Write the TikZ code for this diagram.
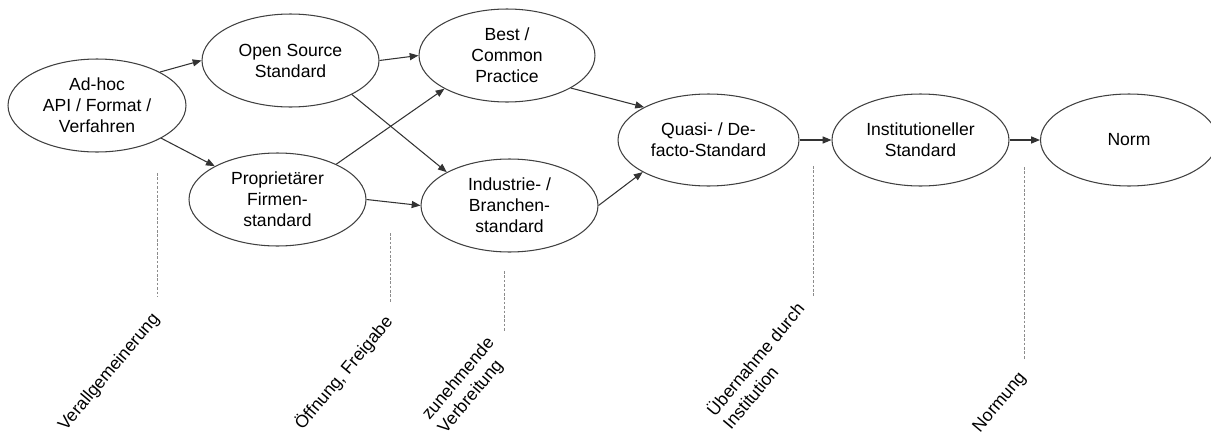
\documentclass[tikz,border=0pt]{standalone}
\usepackage{fontspec}
\setmainfont{Liberation Sans}
\usetikzlibrary{shapes.geometric,arrows.meta}
\tikzset{
  stufe/.style={draw=black!75,line width=0.6pt,ellipse,inner sep=0pt,align=center,
    minimum width=3.54cm,minimum height=1.86cm,font=\fontsize{10}{11.9}\selectfont},
  pfeil/.style={draw=black!80,line width=0.6pt,-{Triangle[length=5pt,width=4pt]}},
  trenner/.style={draw=black!45,line width=0.5pt,dash pattern=on 1.5pt off 1pt},
  schritt/.style={rotate=50,anchor=north east,inner sep=1pt,align=left,
    font=\fontsize{10}{11.9}\selectfont}
}
\begin{document}
\begin{tikzpicture}[x=0.02cm,y=-0.02cm]
        \useasboundingbox (0,0) rectangle (1211,433);
        %Stufen
        \node[stufe,minimum width=3.56cm] (adhoc) at (97,105.5) {Ad-hoc\\API / Format /\\Verfahren};
        \node[stufe] (opensrc) at (290.5,60.5) {Open Source\\Standard};
        \node[stufe] (propr) at (277.5,199.5) {Propriet\"arer\\Firmen-\\standard};
        \node[stufe,minimum width=3.52cm] (best) at (507,55.5) {Best /\\Common\\Practice};
        \node[stufe] (industrie) at (509.5,205.5) {Industrie- /\\Branchen-\\standard};
        \node[stufe,minimum width=3.62cm,minimum height=1.84cm] (quasi) at (708.5,140) {Quasi- / De-\\facto-Standard};
        \node[stufe,minimum height=1.84cm] (inst) at (920.5,140) {Institutioneller\\Standard};
        \node[stufe,minimum height=1.84cm] (norm) at (1129,140) {Norm};
        %Pfeile
        \draw[pfeil] (adhoc.28) -- (opensrc.west);
        \draw[pfeil] (adhoc.333) -- (propr.152);
        \draw[pfeil] (opensrc.east) -- (best.west);
        \draw[pfeil] (opensrc.331) -- (industrie.152);
        \draw[pfeil] (propr.31) -- (best.208);
        \draw[pfeil] (propr.east) -- (industrie.west);
        \draw[pfeil] (best.333) -- (quasi.153);
        \draw[pfeil] (industrie.east) -- (quasi.206);
        \draw[pfeil] (quasi.east) -- (inst.west);
        \draw[pfeil] (inst.east) -- (norm.west);
        %Uebergaenge
        \coordinate (t1) at (157,173); \coordinate (b1) at (157,297);
        \coordinate (t2) at (390,233); \coordinate (b2) at (390,303);
        \coordinate (t3) at (504,271); \coordinate (b3) at (504,331);
        \coordinate (t4) at (813,166); \coordinate (b4) at (813,296);
        \coordinate (t5) at (1024,167); \coordinate (b5) at (1024,359);
        \draw[trenner] (t1) -- (b1);
        \draw[trenner] (t2) -- (b2);
        \draw[trenner] (t3) -- (b3);
        \draw[trenner] (t4) -- (b4);
        \draw[trenner] (t5) -- (b5);
        \node[schritt] (s1) at (150,308) {Verallgemeinerung};
        \node[schritt] (s2) at (382,310) {\"Offnung, Freigabe};
        \node[schritt] (s3) at (485,332) {zunehmende\\Verbreitung};
        \node[schritt] (s4) at (794,297) {\"Ubernahme durch\\Institution};
        \node[schritt] (s5) at (1017,367) {Normung};
\end{tikzpicture}
\end{document}
